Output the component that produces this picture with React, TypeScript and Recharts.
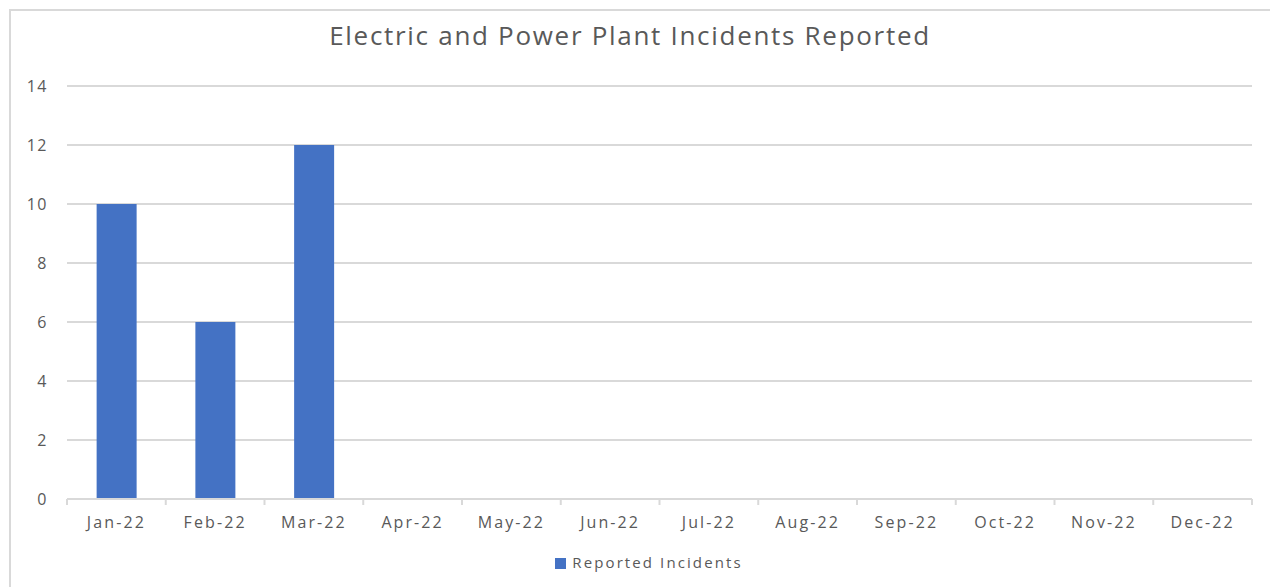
import React from "react";
import { BarChart, Bar, XAxis, YAxis, CartesianGrid, Legend } from "recharts";

const months = [
  "Jan-22", "Feb-22", "Mar-22", "Apr-22", "May-22", "Jun-22",
  "Jul-22", "Aug-22", "Sep-22", "Oct-22", "Nov-22", "Dec-22",
];
const incidents: (number | null)[] = [10, 6, 12, null, null, null, null, null, null, null, null, null];
const yTicks = [0, 2, 4, 6, 8, 10, 12, 14];

const data = months.map((m, i) => ({ month: m, incidents: incidents[i] }));

const FONT = "'Open Sans', sans-serif";
const GREY = "#595959";
const LINE = "#d9d9d9";

// category labels plus Excel-style tick marks on the band edges
function MonthTick(props: any) {
  const { x, y, payload, index } = props;
  const half = payload.offset || 0;
  const axisY = y - 10;
  return (
    <g>
      <line x1={x - half} x2={x - half} y1={axisY} y2={axisY + 6} stroke={LINE} strokeWidth={2} />
      {index === months.length - 1 && (
        <line x1={x + half} x2={x + half} y1={axisY} y2={axisY + 6} stroke={LINE} strokeWidth={2} />
      )}
      <text
        x={x}
        y={y + 19}
        textAnchor="middle"
        fill={GREY}
        fontSize={16}
        fontFamily={FONT}
        letterSpacing={2.1}
      >
        {payload.value}
      </text>
    </g>
  );
}

export default function App() {
  return (
    <div style={{ position: "absolute", left: 0, top: 0, width: 1270, height: 587, background: "#fff", overflow: "hidden" }}>
      <div
        style={{
          position: "absolute",
          left: 9,
          top: 9,
          width: 1280,
          height: 600,
          borderTop: `2px solid ${LINE}`,
          borderLeft: `2px solid ${LINE}`,
        }}
      />
      <div
        style={{
          position: "absolute",
          left: 0,
          top: 17,
          width: 1260,
          textAlign: "center",
          fontFamily: FONT,
          fontSize: 26,
          color: GREY,
          letterSpacing: 1.7,
        }}
      >
        Electric and Power Plant Incidents Reported
      </div>
      <BarChart
        width={1270}
        height={587}
        data={data}
        margin={{ top: 86, right: 18, left: 10, bottom: 0 }}
        barCategoryGap="30%"
        style={{ position: "absolute", left: 0, top: 0 }}
      >
        <CartesianGrid vertical={false} stroke={LINE} strokeWidth={2} />
        <XAxis
          dataKey="month"
          height={88}
          axisLine={{ stroke: LINE, strokeWidth: 2 }}
          tickLine={false}
          tickSize={6}
          tickMargin={4}
          interval={0}
          tick={<MonthTick />}
        />
        <YAxis
          width={57}
          domain={[0, 14]}
          ticks={yTicks}
          axisLine={false}
          tickLine={false}
          tickSize={0}
          tickMargin={19}
          tick={{ fill: GREY, fontSize: 16, fontFamily: FONT, letterSpacing: 1.5 }}
        />
        <Bar dataKey="incidents" name="Reported Incidents" fill="#4472C4" isAnimationActive={false} />
        <Legend
          verticalAlign="middle"
          align="center"
          layout="horizontal"
          iconType="square"
          iconSize={11}
          wrapperStyle={{ top: 552, left: 19, width: 1270, fontFamily: FONT, fontSize: 15, letterSpacing: 2.1 }}
          formatter={(value: string) => <span style={{ color: GREY, marginLeft: 2 }}>{value}</span>}
        />
      </BarChart>
    </div>
  );
}
